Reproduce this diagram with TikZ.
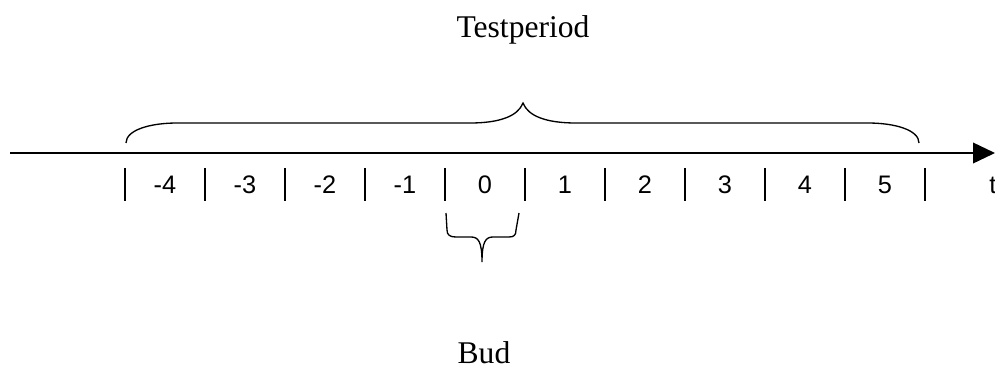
\documentclass[tikz,border=0pt]{standalone}
\usepackage{fontspec}
\setmainfont{Liberation Serif}
\newfontfamily\axisfont{Liberation Sans}
\usetikzlibrary{arrows.meta}
\begin{document}
\begin{tikzpicture}[x=0.75pt,y=-0.75pt,
  axisline/.style={line width=1.2pt,-{Triangle[length=16.5pt,width=15.5pt]}},
  tickline/.style={line width=1.1pt},
  brace/.style={line width=1pt},
  ticklabel/.style={font=\axisfont\fontsize{19pt}{21pt}\selectfont,anchor=base,inner sep=0pt},
  title/.style={font=\fontsize{23.7pt}{26pt}\selectfont,anchor=base,inner sep=0pt}]
\useasboundingbox (0,0) rectangle (995,369);

% time axis
\coordinate (axisstart) at (10,153);
\coordinate (axisend) at (995,153);
\draw[axisline] (axisstart) -- (axisend);

% tick marks between the periods
\foreach \i in {0,...,10}{
  \draw[tickline] (125+80*\i,168) -- (125+80*\i,201);
}
% period numbers
\foreach \n [count=\k from 0] in {-4,-3,-2,-1,0,1,2,3,4,5}{
  \node[ticklabel] (p\k) at (165+80*\k,193) {\n};
}
\node[ticklabel,anchor=base west] (t) at (989,193) {t};

% brace over the whole test period
\draw[brace] (126,143) .. controls (126,130) and (150,123) .. (177,123)
  -- (470,123) .. controls (500,123) and (518,116) .. (523,103)
  .. controls (528,116) and (546,123) .. (576,123)
  -- (868,123) .. controls (895,123) and (919,130) .. (919,143);

% brace under period 0
\draw[brace] (446,213) -- (447,230) .. controls (447,235) and (450,237) .. (456,237)
  -- (471,237) .. controls (478,237) and (482,241) .. (482,262)
  .. controls (482,241) and (486,237) .. (493,237)
  -- (509,237) .. controls (514,237) and (516,235) .. (516,230) -- (519,213);

% labels
\node[title] (testperiod) at (523,37.5) {Testperiod};
\node[title] (bud) at (484,363.5) {Bud};
\end{tikzpicture}
\end{document}
